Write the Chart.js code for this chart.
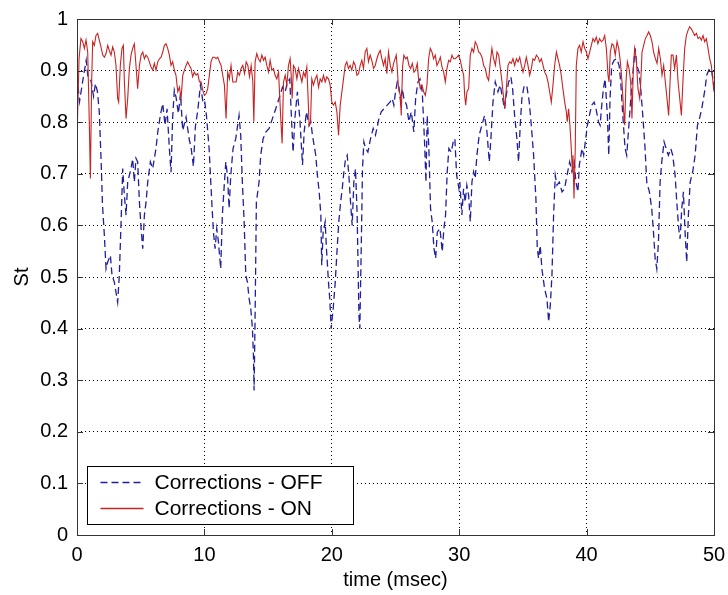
<!DOCTYPE html>
<html>
<head>
<meta charset="utf-8">
<title>St vs time</title>
<script src="https://cdn.jsdelivr.net/npm/chart.js@4.4.0/dist/chart.umd.min.js"></script>
<style>
  body { margin: 0; background: #fff; }
  #wrap { width: 728px; height: 595px; }
</style>
</head>
<body>
<div id="wrap"><canvas id="myChart" width="728" height="595"></canvas></div>
<script>
'use strict';

let seriesNames = ['Corrections - OFF', 'Corrections - ON'];
let xTicks = [0, 10, 20, 30, 40, 50];
let yTicks = [0, 0.1, 0.2, 0.3, 0.4, 0.5, 0.6, 0.7, 0.8, 0.9, 1];

// corrections OFF (blue dashed)
let offTime = [0, 0.2, 0.45, 0.72, 0.85, 1.1, 1.3, 1.45, 1.6, 1.75, 1.9, 2.0, 2.15, 2.28, 2.41, 2.62, 2.75, 2.93, 3.19, 3.32,
  3.46, 3.59, 3.72, 3.85, 3.98, 4.24, 4.37, 4.5, 4.63, 4.76, 4.9, 5.03, 5.16, 5.29, 5.42, 5.55, 5.76, 5.94, 6.2, 6.34,
  6.54, 6.73, 6.91, 7.07, 7.25, 7.38, 7.51, 7.64, 7.77, 7.96, 8.12, 8.3, 8.56, 8.82, 8.95, 9.14, 9.29, 9.48, 9.69, 9.87,
  10.0, 10.16, 10.37, 10.58, 10.71, 10.84, 10.97, 11.1, 11.28, 11.41, 11.54, 11.68, 11.81, 11.94, 12.07, 12.25, 12.46, 12.72, 12.85, 12.98,
  13.12, 13.25, 13.38, 13.51, 13.64, 13.77, 13.85, 13.9, 13.98, 14.08, 14.29, 14.42, 14.61, 14.82, 15.08, 15.34, 15.6, 15.86, 16.13, 16.34,
  16.52, 16.7, 16.86, 16.96, 17.12, 17.3, 17.49, 17.7, 17.83, 18.01, 18.22, 18.35, 18.48, 18.74, 18.87, 19.01, 19.14, 19.21, 19.32, 19.48,
  19.58, 19.74, 19.84, 19.95, 20.11, 20.27, 20.42, 20.55, 20.69, 20.82, 20.95, 21.08, 21.21, 21.34, 21.47, 21.6, 21.73, 21.86, 21.99, 22.13,
  22.2, 22.31, 22.41, 22.52, 22.65, 22.83, 23.04, 23.25, 23.43, 23.7, 23.88, 24.09, 24.35, 24.56, 24.74, 24.87, 25.0, 25.14, 25.27, 25.4,
  25.53, 25.66, 25.87, 26.05, 26.24, 26.44, 26.58, 26.76, 26.92, 27.1, 27.28, 27.39, 27.49, 27.62, 27.75, 27.88, 28.02, 28.15, 28.28, 28.49,
  28.67, 28.8, 28.93, 29.06, 29.19, 29.38, 29.53, 29.66, 29.8, 29.98, 30.05, 30.21, 30.34, 30.47, 30.6, 30.74, 30.87, 31.0, 31.13, 31.26,
  31.39, 31.57, 31.78, 31.99, 32.18, 32.36, 32.49, 32.65, 32.83, 33.04, 33.22, 33.41, 33.56, 33.69, 33.88, 34.06, 34.19, 34.35, 34.53, 34.66,
  34.79, 34.92, 35.11, 35.32, 35.5, 35.66, 35.84, 36.02, 36.13, 36.23, 36.36, 36.49, 36.7, 36.89, 37.02, 37.15, 37.28, 37.41, 37.54, 37.67,
  37.86, 38.07, 38.27, 38.46, 38.67, 38.85, 39.03, 39.16, 39.32, 39.43, 39.64, 39.77, 39.9, 40.06, 40.22, 40.4, 40.59, 40.74, 40.93, 41.06,
  41.19, 41.32, 41.45, 41.63, 41.74, 41.84, 41.97, 42.16, 42.37, 42.55, 42.68, 42.84, 43.02, 43.15, 43.28, 43.47, 43.62, 43.81, 43.94, 44.12,
  44.25, 44.41, 44.59, 44.72, 44.93, 45.11, 45.25, 45.38, 45.51, 45.64, 45.77, 45.9, 46.08, 46.24, 46.42, 46.61, 46.76, 46.95, 47.08, 47.23,
  47.34, 47.47, 47.6, 47.73, 47.86, 47.99, 48.13, 48.33, 48.52, 48.7, 48.86, 49.04, 49.17, 49.3, 49.43, 49.64, 49.83, 49.96, 50];
let offSt = [0.89, 0.84, 0.88, 0.92, 0.89, 0.88, 0.85, 0.875, 0.86, 0.82, 0.72, 0.64, 0.58, 0.516, 0.529, 0.542, 0.503, 0.49, 0.451, 0.503,
  0.607, 0.71, 0.658, 0.62, 0.684, 0.71, 0.729, 0.684, 0.73, 0.723, 0.645, 0.594, 0.555, 0.62, 0.645, 0.684, 0.723, 0.71, 0.749, 0.781,
  0.813, 0.836, 0.794, 0.826, 0.749, 0.703, 0.81, 0.862, 0.849, 0.817, 0.855, 0.784, 0.81, 0.765, 0.752, 0.714, 0.791, 0.823, 0.872, 0.842,
  0.845, 0.813, 0.749, 0.645, 0.587, 0.555, 0.594, 0.568, 0.516, 0.62, 0.671, 0.723, 0.697, 0.633, 0.697, 0.749, 0.768, 0.813, 0.775, 0.684,
  0.607, 0.503, 0.49, 0.458, 0.439, 0.4, 0.348, 0.28, 0.426, 0.645, 0.684, 0.736, 0.768, 0.781, 0.788, 0.807, 0.826, 0.846, 0.868, 0.859,
  0.878, 0.884, 0.794, 0.742, 0.813, 0.859, 0.807, 0.717, 0.781, 0.82, 0.794, 0.801, 0.775, 0.736, 0.697, 0.665, 0.62, 0.523, 0.587, 0.607,
  0.555, 0.49, 0.458, 0.4, 0.439, 0.49, 0.555, 0.607, 0.645, 0.671, 0.704, 0.729, 0.736, 0.697, 0.645, 0.6, 0.684, 0.71, 0.62, 0.426,
  0.4, 0.555, 0.71, 0.762, 0.749, 0.742, 0.768, 0.788, 0.775, 0.807, 0.82, 0.826, 0.833, 0.839, 0.846, 0.833, 0.859, 0.878, 0.868, 0.839,
  0.865, 0.846, 0.833, 0.801, 0.82, 0.781, 0.846, 0.878, 0.884, 0.859, 0.762, 0.684, 0.813, 0.749, 0.633, 0.607, 0.555, 0.536, 0.587, 0.594,
  0.549, 0.594, 0.62, 0.704, 0.749, 0.742, 0.762, 0.768, 0.697, 0.671, 0.684, 0.62, 0.671, 0.645, 0.678, 0.658, 0.607, 0.684, 0.704, 0.691,
  0.736, 0.775, 0.794, 0.813, 0.781, 0.723, 0.768, 0.839, 0.878, 0.859, 0.872, 0.846, 0.826, 0.852, 0.878, 0.888, 0.865, 0.813, 0.768, 0.723,
  0.794, 0.846, 0.872, 0.868, 0.839, 0.794, 0.736, 0.652, 0.555, 0.536, 0.561, 0.516, 0.478, 0.458, 0.413, 0.445, 0.503, 0.62, 0.697, 0.678,
  0.684, 0.665, 0.671, 0.697, 0.723, 0.704, 0.723, 0.684, 0.665, 0.717, 0.749, 0.736, 0.762, 0.794, 0.813, 0.833, 0.839, 0.826, 0.801, 0.794,
  0.833, 0.865, 0.884, 0.813, 0.736, 0.846, 0.91, 0.92, 0.923, 0.91, 0.878, 0.813, 0.749, 0.736, 0.781, 0.846, 0.891, 0.943, 0.91, 0.897,
  0.865, 0.813, 0.749, 0.684, 0.665, 0.633, 0.587, 0.536, 0.516, 0.568, 0.684, 0.723, 0.762, 0.749, 0.736, 0.749, 0.736, 0.697, 0.645, 0.594,
  0.574, 0.633, 0.665, 0.587, 0.529, 0.62, 0.684, 0.704, 0.736, 0.794, 0.807, 0.826, 0.846, 0.865, 0.891, 0.904, 0.897, 0.878, 0.86];

// corrections ON (red solid)
let onTime = [0, 0.16, 0.31, 0.45, 0.58, 0.71, 0.84, 0.97, 1.05, 1.15, 1.23, 1.36, 1.49, 1.62, 1.75, 1.88, 2.02, 2.15, 2.28, 2.41,
  2.54, 2.67, 2.8, 2.93, 3.06, 3.19, 3.27, 3.4, 3.53, 3.64, 3.72, 3.85, 3.98, 4.11, 4.24, 4.37, 4.5, 4.63, 4.76, 4.9,
  5.03, 5.16, 5.29, 5.42, 5.55, 5.68, 5.81, 5.94, 6.07, 6.2, 6.34, 6.47, 6.6, 6.73, 6.86, 6.99, 7.12, 7.25, 7.38, 7.51,
  7.64, 7.77, 7.91, 8.04, 8.17, 8.3, 8.43, 8.56, 8.69, 8.82, 8.95, 9.08, 9.21, 9.35, 9.48, 9.61, 9.74, 9.87, 10.0, 10.13,
  10.26, 10.39, 10.52, 10.65, 10.79, 10.92, 11.05, 11.18, 11.31, 11.44, 11.57, 11.7, 11.83, 11.96, 12.09, 12.23, 12.36, 12.49, 12.62, 12.75,
  12.88, 13.01, 13.15, 13.28, 13.41, 13.54, 13.67, 13.8, 13.88, 13.98, 14.11, 14.24, 14.38, 14.51, 14.64, 14.77, 14.9, 15.03, 15.16, 15.29,
  15.42, 15.55, 15.68, 15.82, 15.92, 16.02, 16.1, 16.21, 16.34, 16.47, 16.6, 16.73, 16.81, 16.89, 16.99, 17.12, 17.26, 17.39, 17.52, 17.65,
  17.78, 17.91, 18.04, 18.12, 18.22, 18.33, 18.43, 18.56, 18.7, 18.83, 18.96, 19.09, 19.22, 19.35, 19.48, 19.61, 19.74, 19.87, 20.0, 20.13,
  20.27, 20.4, 20.53, 20.66, 20.79, 20.92, 21.05, 21.18, 21.31, 21.44, 21.57, 21.71, 21.84, 21.97, 22.1, 22.23, 22.36, 22.49, 22.62, 22.75,
  22.88, 23.01, 23.14, 23.28, 23.41, 23.54, 23.67, 23.8, 23.93, 24.06, 24.19, 24.32, 24.45, 24.59, 24.72, 24.85, 25.06, 25.14, 25.24, 25.38,
  25.45, 25.56, 25.66, 25.79, 25.92, 26.06, 26.19, 26.32, 26.45, 26.58, 26.71, 26.81, 26.95, 27.08, 27.21, 27.34, 27.47, 27.6, 27.73, 27.86,
  27.99, 28.12, 28.25, 28.39, 28.52, 28.65, 28.78, 28.91, 29.04, 29.17, 29.3, 29.43, 29.56, 29.69, 29.83, 29.96, 30.09, 30.22, 30.35, 30.43,
  30.51, 30.61, 30.74, 30.87, 31.0, 31.13, 31.26, 31.4, 31.53, 31.66, 31.79, 31.92, 32.05, 32.18, 32.31, 32.44, 32.57, 32.7, 32.84, 32.97,
  33.1, 33.23, 33.36, 33.49, 33.57, 33.7, 33.83, 33.96, 34.09, 34.22, 34.35, 34.49, 34.62, 34.75, 34.88, 35.01, 35.14, 35.27, 35.4, 35.53,
  35.66, 35.79, 35.92, 36.06, 36.19, 36.32, 36.45, 36.58, 36.71, 36.84, 36.97, 37.1, 37.23, 37.36, 37.49, 37.63, 37.75, 37.88, 38.01, 38.14,
  38.28, 38.41, 38.48, 38.59, 38.69, 38.8, 38.88, 38.93, 39.01, 39.11, 39.19, 39.32, 39.45, 39.58, 39.72, 39.85, 39.98, 40.11, 40.24, 40.37,
  40.5, 40.63, 40.76, 40.89, 41.02, 41.15, 41.29, 41.42, 41.55, 41.68, 41.76, 41.86, 41.99, 42.12, 42.25, 42.39, 42.52, 42.65, 42.78, 42.91,
  42.99, 43.09, 43.2, 43.33, 43.46, 43.56, 43.67, 43.77, 43.9, 44.03, 44.17, 44.24, 44.35, 44.48, 44.61, 44.74, 44.87, 45.0, 45.13, 45.26,
  45.4, 45.53, 45.66, 45.79, 45.92, 46.05, 46.18, 46.31, 46.44, 46.55, 46.65, 46.78, 46.91, 47.05, 47.18, 47.31, 47.44, 47.57, 47.7, 47.83,
  47.96, 48.09, 48.22, 48.35, 48.48, 48.62, 48.75, 48.88, 49.01, 49.14, 49.27, 49.4, 49.53, 49.66, 49.79, 49.92, 50];
let onSt = [0.768, 0.923, 0.962, 0.956, 0.943, 0.959, 0.936, 0.794, 0.691, 0.878, 0.956, 0.949, 0.968, 0.972, 0.959, 0.946, 0.93, 0.926, 0.933, 0.949,
  0.939, 0.93, 0.946, 0.936, 0.91, 0.846, 0.839, 0.91, 0.943, 0.949, 0.878, 0.807, 0.846, 0.904, 0.93, 0.943, 0.952, 0.91, 0.865, 0.91,
  0.93, 0.936, 0.923, 0.93, 0.926, 0.917, 0.907, 0.901, 0.914, 0.901, 0.917, 0.923, 0.926, 0.936, 0.949, 0.952, 0.943, 0.93, 0.91, 0.917,
  0.901, 0.891, 0.859, 0.868, 0.846, 0.891, 0.901, 0.91, 0.917, 0.91, 0.904, 0.888, 0.897, 0.891, 0.894, 0.878, 0.878, 0.862, 0.852, 0.855,
  0.865, 0.891, 0.917, 0.926, 0.926, 0.923, 0.926, 0.917, 0.91, 0.891, 0.872, 0.807, 0.897, 0.884, 0.91, 0.878, 0.878, 0.878, 0.897, 0.891,
  0.904, 0.91, 0.894, 0.917, 0.91, 0.888, 0.91, 0.878, 0.801, 0.917, 0.933, 0.923, 0.917, 0.93, 0.92, 0.926, 0.91, 0.897, 0.92, 0.901,
  0.904, 0.891, 0.884, 0.897, 0.846, 0.794, 0.759, 0.878, 0.891, 0.872, 0.91, 0.923, 0.891, 0.846, 0.91, 0.904, 0.884, 0.904, 0.891, 0.878,
  0.897, 0.888, 0.907, 0.859, 0.794, 0.801, 0.884, 0.872, 0.884, 0.891, 0.868, 0.884, 0.878, 0.891, 0.878, 0.888, 0.884, 0.872, 0.839, 0.833,
  0.839, 0.82, 0.775, 0.833, 0.859, 0.884, 0.91, 0.917, 0.904, 0.91, 0.901, 0.917, 0.91, 0.891, 0.894, 0.91, 0.92, 0.904, 0.936, 0.943,
  0.917, 0.93, 0.92, 0.904, 0.91, 0.923, 0.933, 0.939, 0.923, 0.91, 0.923, 0.894, 0.936, 0.91, 0.897, 0.914, 0.93, 0.904, 0.865, 0.852,
  0.813, 0.91, 0.93, 0.923, 0.926, 0.91, 0.904, 0.914, 0.897, 0.901, 0.914, 0.884, 0.865, 0.872, 0.859, 0.852, 0.872, 0.923, 0.943, 0.936,
  0.923, 0.93, 0.91, 0.917, 0.926, 0.907, 0.897, 0.878, 0.904, 0.92, 0.917, 0.93, 0.923, 0.923, 0.926, 0.93, 0.92, 0.904, 0.891, 0.852,
  0.833, 0.859, 0.865, 0.93, 0.943, 0.936, 0.956, 0.949, 0.936, 0.933, 0.926, 0.91, 0.904, 0.888, 0.881, 0.917, 0.943, 0.923, 0.91, 0.936,
  0.93, 0.904, 0.878, 0.846, 0.826, 0.865, 0.91, 0.917, 0.914, 0.923, 0.91, 0.923, 0.917, 0.926, 0.91, 0.897, 0.91, 0.926, 0.91, 0.891,
  0.904, 0.923, 0.92, 0.93, 0.926, 0.917, 0.923, 0.91, 0.897, 0.891, 0.878, 0.859, 0.839, 0.872, 0.91, 0.936, 0.923, 0.91, 0.891, 0.865,
  0.839, 0.82, 0.801, 0.826, 0.794, 0.749, 0.704, 0.736, 0.652, 0.749, 0.91, 0.943, 0.949, 0.936, 0.956, 0.943, 0.936, 0.923, 0.936, 0.949,
  0.962, 0.956, 0.965, 0.952, 0.962, 0.956, 0.959, 0.968, 0.943, 0.891, 0.878, 0.936, 0.952, 0.949, 0.93, 0.956, 0.943, 0.917, 0.878, 0.82,
  0.794, 0.878, 0.917, 0.904, 0.878, 0.807, 0.904, 0.943, 0.923, 0.865, 0.846, 0.872, 0.936, 0.949, 0.962, 0.968, 0.975, 0.968, 0.956, 0.936,
  0.923, 0.914, 0.943, 0.923, 0.891, 0.91, 0.878, 0.846, 0.813, 0.878, 0.93, 0.93, 0.904, 0.93, 0.878, 0.846, 0.813, 0.884, 0.943, 0.968,
  0.978, 0.985, 0.981, 0.975, 0.968, 0.972, 0.962, 0.965, 0.959, 0.968, 0.956, 0.962, 0.943, 0.923, 0.91, 0.878, 0.859];

let offColor = '#1f1fa0';
let onColor = '#c82323';

function toPoints(times, values) {
  return times.map((t, i) => ({ x: t, y: values[i] }));
}

// matlab style box, inward ticks and legend inside the axes
let matlabBox = {
  id: 'matlabBox',
  afterDraw(chart) {
    let ctx = chart.ctx;
    let a = chart.chartArea;
    let xs = chart.scales.x;
    let ys = chart.scales.y;
    ctx.save();
    ctx.setLineDash([]);
    ctx.strokeStyle = '#333';
    ctx.lineWidth = 1;

    ctx.beginPath();
    xTicks.forEach(v => {
      let px = Math.round(xs.getPixelForValue(v)) + 0.5;
      ctx.moveTo(px, a.bottom); ctx.lineTo(px, a.bottom - 6);
      ctx.moveTo(px, a.top); ctx.lineTo(px, a.top + 6);
    });
    yTicks.forEach(v => {
      let py = Math.round(ys.getPixelForValue(v)) + 0.5;
      ctx.moveTo(a.left, py); ctx.lineTo(a.left + 6, py);
      ctx.moveTo(a.right, py); ctx.lineTo(a.right - 6, py);
    });
    ctx.stroke();
    ctx.strokeRect(Math.round(a.left) + 0.5, Math.round(a.top) + 0.5, Math.round(a.right - a.left), Math.round(a.bottom - a.top));

    // legend
    let lx = Math.round(a.left) + 10.5;
    let ly = Math.round(a.bottom) - 68.5;
    let lw = 266;
    let lh = 58;
    ctx.fillStyle = '#fff';
    ctx.fillRect(lx, ly, lw, lh);
    ctx.strokeStyle = '#000';
    ctx.strokeRect(lx, ly, lw, lh);

    let rows = [
      { label: seriesNames[0], color: offColor, dash: [7, 4] },
      { label: seriesNames[1], color: onColor, dash: [] }
    ];
    ctx.font = '21px "Liberation Sans", Arial, sans-serif';
    ctx.textBaseline = 'middle';
    ctx.textAlign = 'left';
    rows.forEach((r, i) => {
      let ry = ly + 16 + i * 26;
      ctx.beginPath();
      ctx.setLineDash(r.dash);
      ctx.strokeStyle = r.color;
      ctx.lineWidth = 1.3;
      ctx.moveTo(lx + 13, ry);
      ctx.lineTo(lx + 56, ry);
      ctx.stroke();
      ctx.setLineDash([]);
      ctx.fillStyle = '#000';
      ctx.fillText(r.label, lx + 67, ry + 1);
    });
    ctx.restore();
  }
};

Chart.defaults.font.family = '"Liberation Sans", Arial, sans-serif';
Chart.defaults.font.size = 20;
Chart.defaults.color = '#000';

let ctx = document.getElementById('myChart').getContext('2d');
let chart = new Chart(ctx, {
  type: 'line',
  data: {
    datasets: [{
      label: seriesNames[0],
      data: toPoints(offTime, offSt),
      borderColor: offColor,
      borderWidth: 1.3,
      borderDash: [7, 4],
      pointRadius: 0,
      fill: false,
      tension: 0,
      order: 1
    }, {
      label: seriesNames[1],
      data: toPoints(onTime, onSt),
      borderColor: onColor,
      borderWidth: 1.1,
      pointRadius: 0,
      fill: false,
      tension: 0,
      order: 0
    }]
  },
  options: {
    responsive: false,
    animation: false,
    devicePixelRatio: 1,
    layout: { padding: { left: 0, right: 14, top: 19, bottom: 0 } },
    plugins: {
      legend: { display: false },
      tooltip: { enabled: false }
    },
    scales: {
      x: {
        type: 'linear',
        min: 0,
        max: 50,
        afterBuildTicks: axis => { axis.ticks = xTicks.map(v => ({ value: v })); },
        afterFit: axis => { axis.height = 60; axis.paddingLeft = 0; axis.paddingRight = 0; },
        ticks: { padding: 8, maxRotation: 0 },
        grid: { color: '#000', lineWidth: 1, drawTicks: false },
        border: { display: false, dash: [1, 3] },
        title: { display: true, text: 'time (msec)', padding: { top: 0, bottom: 3 } }
      },
      y: {
        type: 'linear',
        min: 0,
        max: 1,
        afterBuildTicks: axis => { axis.ticks = yTicks.map(v => ({ value: v })); },
        afterFit: axis => { axis.width = 77; axis.paddingTop = 0; axis.paddingBottom = 0; },
        ticks: { padding: 9, callback: v => String(v) },
        grid: { color: '#000', lineWidth: 1, drawTicks: false },
        border: { display: false, dash: [1, 3] },
        title: { display: true, text: 'St', padding: { top: 10, bottom: 0 } }
      }
    }
  },
  plugins: [matlabBox]
});
</script>
</body>
</html>
